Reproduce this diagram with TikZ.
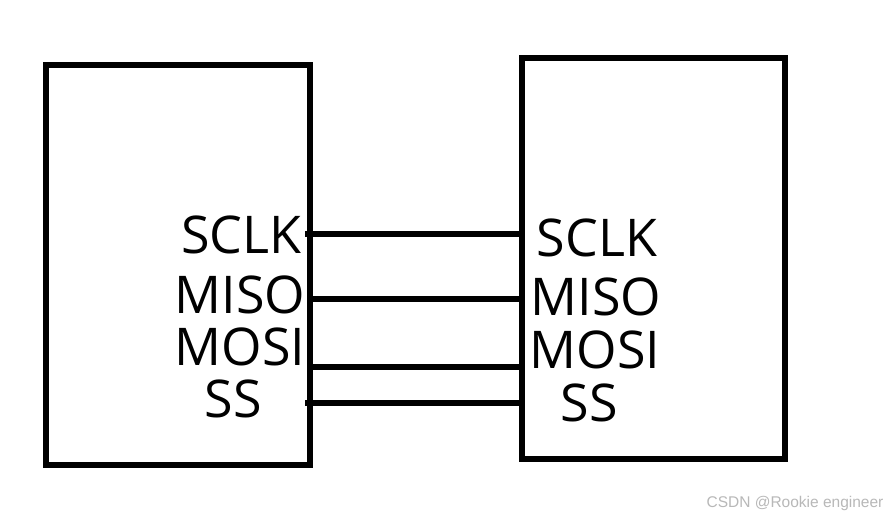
\documentclass[tikz,border=0pt]{standalone}
\usepackage{fontspec}
\setmainfont{Open Sans}
\newfontfamily\wmfont{Liberation Sans}
\begin{document}
\begin{tikzpicture}[x=1pt,y=-1pt,
  devbox/.style={draw=black,line width=6pt,inner sep=0pt},
  pin/.style={inner sep=0pt,font=\fontsize{52}{52}\selectfont},
  wire/.style={line width=5.5pt,line cap=butt}]
\useasboundingbox[fill=white] (0,0) rectangle (890,520);
\node[devbox,minimum width=264pt,minimum height=400pt] (lbox) at (178,265) {};
\node[devbox,minimum width=263pt,minimum height=401pt] (rbox) at (653.5,258.5) {};
% left labels
\node[pin] (lsclk) at (241.5,234.5) {SCLK};
\node[pin] (lmiso) at (240,295) {MISO};
\node[pin] (lmosi) at (240,347) {MOSI};
\node[pin] (lss) at (233,399) {SS};
% right labels
\node[pin] (rsclk) at (597,238) {SCLK};
\node[pin] (rmiso) at (596,297) {MISO};
\node[pin] (rmosi) at (595,350) {MOSI};
\node[pin] (rss) at (589,403) {SS};
% wires
\coordinate (w1a) at (305,234); \coordinate (w1b) at (522,234);
\coordinate (w2a) at (310,299); \coordinate (w2b) at (522,299);
\coordinate (w3a) at (310,367); \coordinate (w3b) at (522,367);
\coordinate (w4a) at (305,403); \coordinate (w4b) at (522,403);
\draw[wire] (w1a) -- (w1b);
\draw[wire] (w2a) -- (w2b);
\draw[wire] (w3a) -- (w3b);
\draw[wire] (w4a) -- (w4b);
\node[inner sep=0pt,text=black!28,font=\wmfont\fontsize{15.5}{15.5}\selectfont] (wm) at (795,503) {CSDN @Rookie engineer};
\end{tikzpicture}
\end{document}
